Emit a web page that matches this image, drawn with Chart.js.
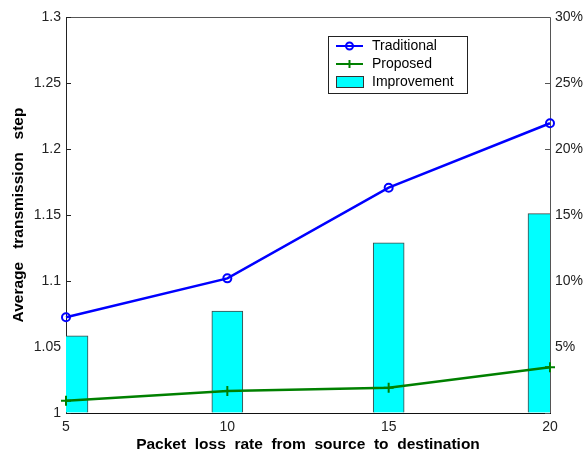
<!DOCTYPE html>
<html>
<head>
<meta charset="utf-8">
<script src="https://cdn.jsdelivr.net/npm/chart.js@4/dist/chart.umd.min.js"></script>
<style>
	html, body { margin: 0; padding: 0; background: #fff; }
	#wrap { width: 584px; height: 455px; }
</style>
</head>
<body>
<div id="wrap"><canvas id="lossChart" width="584" height="455"></canvas></div>
<script>
// data
var lossRates = [5, 10, 15, 20];
var traditional = [1.0725, 1.102, 1.1707, 1.2195];
var proposed = [1.0093, 1.0167, 1.0192, 1.0346];
var improvement = [5.85, 7.73, 12.9, 15.1]; // percent
var leftTicks = [1, 1.05, 1.1, 1.15, 1.2, 1.25, 1.3];
var rightTicks = [0, 5, 10, 15, 20, 25, 30];

var FONT = 'Liberation Sans, Arial, sans-serif';

function points(values, idx) {
	var out = [];
	lossRates.forEach(function(x, i) {
		if (!idx || idx.indexOf(i) >= 0) out.push({x: x, y: values[i]});
	});
	return out;
}

// box round the plot plus the inward tick marks (MATLAB style)
var frameTicks = {
	id: 'frameTicks',
	beforeDatasetsDraw: function(chart) {
		var ctx = chart.ctx, a = chart.chartArea;
		var yl = chart.scales.y, yr = chart.scales.y1;
		ctx.save();
		ctx.lineWidth = 1;
		ctx.strokeStyle = '#555';
		ctx.beginPath();
		ctx.moveTo(a.left, a.top + 0.5);
		ctx.lineTo(a.right + 0.5, a.top + 0.5);
		ctx.lineTo(a.right + 0.5, a.bottom);
		ctx.stroke();
		ctx.strokeStyle = '#222';
		leftTicks.forEach(function(v) {
			var py = Math.round(yl.getPixelForValue(v)) + 0.5;
			ctx.beginPath();
			ctx.moveTo(a.left, py);
			ctx.lineTo(a.left + 5, py);
			ctx.stroke();
		});
		ctx.strokeStyle = '#555';
		rightTicks.forEach(function(v) {
			var py = Math.round(yr.getPixelForValue(v)) + 0.5;
			ctx.beginPath();
			ctx.moveTo(a.right, py);
			ctx.lineTo(a.right - 5, py);
			ctx.stroke();
		});
		ctx.restore();
	}
};

// legend box in the upper middle of the plot
var boxLegend = {
	id: 'boxLegend',
	afterDatasetsDraw: function(chart) {
		var ctx = chart.ctx;
		var ds = chart.data.datasets.filter(function(d) { return !d.noLegend; });
		var bx = 328, by = 36, bw = 139, bh = 57;
		ctx.save();
		ctx.fillStyle = '#fff';
		ctx.fillRect(bx, by, bw, bh);
		ctx.strokeStyle = '#222';
		ctx.lineWidth = 1;
		ctx.strokeRect(bx + 0.5, by + 0.5, bw, bh);

		var rows = [46, 64, 82];
		var sx1 = 336, sx2 = 363, mid = 349.5;
		ctx.font = '14px ' + FONT;
		ctx.textBaseline = 'middle';
		ds.forEach(function(d, i) {
			var ry = rows[i];
			if (d.type === 'bar') {
				ctx.fillStyle = d.backgroundColor;
				ctx.fillRect(sx1, ry - 6, sx2 - sx1, 11);
				ctx.strokeStyle = '#333';
				ctx.strokeRect(sx1 + 0.5, ry - 5.5, sx2 - sx1, 11);
			} else {
				ctx.strokeStyle = d.borderColor;
				ctx.lineWidth = 2;
				ctx.beginPath();
				ctx.moveTo(sx1, ry);
				ctx.lineTo(sx2, ry);
				ctx.stroke();
				ctx.beginPath();
				if (d.pointStyle === 'circle') {
					ctx.arc(mid, ry, 3.5, 0, Math.PI * 2);
				} else {
					ctx.moveTo(mid, ry - 4);
					ctx.lineTo(mid, ry + 4);
				}
				ctx.stroke();
				ctx.lineWidth = 1;
			}
			ctx.fillStyle = '#000';
			ctx.fillText(d.label, 372, ry);
		});
		ctx.restore();
	}
};

var barStyle = {
	type: 'bar',
	yAxisID: 'y1',
	backgroundColor: '#00ffff',
	borderColor: '#444',
	borderWidth: 1,
	borderSkipped: 'bottom',
	grouped: false,
	clip: 0,
	order: 3
};

var ctx = document.getElementById('lossChart').getContext('2d');
new Chart(ctx, {
	type: 'line',
	data: {
		datasets: [{
			label: 'Traditional',
			data: points(traditional),
			yAxisID: 'y',
			borderColor: '#0000ff',
			backgroundColor: 'rgba(0,0,0,0)',
			borderWidth: 2.5,
			pointStyle: 'circle',
			pointRadius: 4,
			pointBorderWidth: 2,
			clip: false,
			order: 1
		}, {
			label: 'Proposed',
			data: points(proposed),
			yAxisID: 'y',
			borderColor: '#008000',
			backgroundColor: '#008000',
			borderWidth: 2.5,
			pointStyle: 'cross',
			pointRadius: 5,
			pointBorderWidth: 2,
			clip: false,
			order: 2
		}, Object.assign({}, barStyle, {
			label: 'Improvement',
			data: points(improvement, [1, 2]),
			barThickness: 31
		}), Object.assign({}, barStyle, {
			// the two bars at the ends sit wider and are cut by the axes
			label: 'Improvement',
			noLegend: true,
			data: points(improvement, [0, 3]),
			barThickness: 44
		})]
	},
	options: {
		responsive: false,
		animation: false,
		layout: { padding: { top: 17, left: 0, right: 0, bottom: 0 } },
		plugins: {
			legend: { display: false },
			tooltip: { enabled: false }
		},
		scales: {
			x: {
				type: 'linear',
				min: 5,
				max: 20,
				offset: false,
				afterBuildTicks: function(scale) {
					scale.ticks = lossRates.map(function(v) { return {value: v}; });
				},
				ticks: { color: '#222', font: { family: FONT, size: 14 }, padding: 6, maxRotation: 0 },
				grid: { drawOnChartArea: false, drawTicks: false, offset: false },
				border: { color: '#111', width: 1 },
				title: {
					display: true,
					text: 'Packet  loss  rate  from  source  to  destination',
					color: '#000',
					font: { family: FONT, size: 15.5, weight: 'bold' },
					padding: { top: 0, bottom: 1 }
				},
				afterFit: function(scale) { scale.height = 42; }
			},
			y: {
				position: 'left',
				min: 1,
				max: 1.3,
				afterBuildTicks: function(scale) {
					scale.ticks = leftTicks.map(function(v) { return {value: v}; });
				},
				ticks: {
					color: '#222',
					font: { family: FONT, size: 14 },
					padding: 5,
					callback: function(v) { return String(Number(v.toFixed(2))); }
				},
				grid: { drawOnChartArea: false, drawTicks: false },
				border: { color: '#222', width: 1 },
				title: {
					display: true,
					text: 'Average   transmission   step',
					color: '#000',
					font: { family: FONT, size: 15.5, weight: 'bold' },
					padding: { top: 9, bottom: 0 }
				},
				afterFit: function(scale) { scale.width = 66; }
			},
			y1: {
				position: 'right',
				min: 0,
				max: 30,
				afterBuildTicks: function(scale) {
					scale.ticks = rightTicks.map(function(v) { return {value: v}; });
				},
				ticks: {
					color: '#222',
					font: { family: FONT, size: 14 },
					padding: 5,
					callback: function(v) { return v === 0 ? '' : v + '%'; }
				},
				grid: { drawOnChartArea: false, drawTicks: false },
				border: { display: false },
				afterFit: function(scale) { scale.width = 34; }
			}
		}
	},
	plugins: [frameTicks, boxLegend]
});
</script>
</body>
</html>
